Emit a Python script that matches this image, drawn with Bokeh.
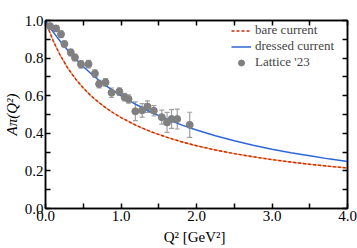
from bokeh.plotting import figure
from bokeh.models import (ColumnDataSource, Whisker, TeeHead, Legend, LegendItem,
                          FixedTicker, LinearAxis, NumeralTickFormatter, Range1d)
from bokeh.embed import file_html
from bokeh.resources import INLINE

# curves
q2_curve = [0.0, 0.05, 0.1, 0.15, 0.2, 0.3, 0.4, 0.5, 0.6, 0.7, 0.8, 0.9, 1.0,
            1.2, 1.4, 1.6, 1.8, 2.0, 2.25, 2.5, 2.75, 3.0, 3.25, 3.5, 3.75, 4.0]
bare = [1.0, 0.944, 0.894, 0.851, 0.811, 0.744, 0.688, 0.641, 0.600, 0.566, 0.535, 0.508, 0.484,
        0.442, 0.408, 0.380, 0.355, 0.334, 0.311, 0.292, 0.275, 0.260, 0.247, 0.235, 0.225, 0.2155]
dressed = [1.0, 0.969, 0.940, 0.913, 0.887, 0.839, 0.795, 0.755, 0.718, 0.685, 0.654, 0.626, 0.600,
           0.553, 0.512, 0.477, 0.445, 0.418, 0.387, 0.360, 0.336, 0.315, 0.296, 0.280, 0.264, 0.2505]

# lattice points
lat_q2 = [0.06, 0.14, 0.205, 0.25, 0.335, 0.39, 0.47, 0.57, 0.655, 0.71, 0.795, 0.875,
          0.978, 1.048, 1.10, 1.19, 1.28, 1.35, 1.435, 1.54, 1.61, 1.67, 1.745, 1.91]
lat_a = [0.970, 0.958, 0.927, 0.875, 0.830, 0.803, 0.767, 0.768, 0.718, 0.662, 0.671, 0.616,
         0.622, 0.592, 0.582, 0.517, 0.522, 0.542, 0.520, 0.486, 0.458, 0.476, 0.476, 0.445]
lat_err = [0.015, 0.015, 0.018, 0.015, 0.018, 0.018, 0.020, 0.020, 0.020, 0.020, 0.020, 0.025,
           0.020, 0.020, 0.022, 0.050, 0.036, 0.031, 0.028, 0.037, 0.053, 0.050, 0.053, 0.067]

x_ticks = [0, 1, 2, 3, 4]
x_minor = [0.5, 1.5, 2.5, 3.5]
y_ticks = [0.0, 0.2, 0.4, 0.6, 0.8, 1.0]
y_minor = [0.1, 0.3, 0.5, 0.7, 0.9]

FONT = "Liberation Serif"

p = figure(frame_width=302, frame_height=188, x_range=Range1d(0, 4), y_range=Range1d(0, 1),
           output_backend="svg", toolbar_location=None,
           min_border_left=0, min_border_right=11, min_border_top=20, min_border_bottom=0)
p.xgrid.visible = False
p.ygrid.visible = False
p.outline_line_color = "black"
p.outline_line_width = 1.5
p.background_fill_color = "white"


def tick_style(ax):
    ax.major_tick_in = 5
    ax.major_tick_out = 0
    ax.minor_tick_in = 5
    ax.minor_tick_out = 0
    ax.axis_line_width = 1.5
    ax.major_tick_line_width = 1.5
    ax.minor_tick_line_width = 1.5


def style(ax, ticks, minor):
    ax.ticker = FixedTicker(ticks=ticks, minor_ticks=minor)
    tick_style(ax)
    ax.major_label_text_font = FONT
    ax.major_label_text_color = "black"
    ax.major_label_text_font_size = "15px"
    ax.formatter = NumeralTickFormatter(format="0.0")
    ax.major_label_standoff = 2
    ax.axis_label_text_font = FONT
    ax.axis_label_text_font_size = "15px"
    ax.axis_label_text_color = "black"


style(p.xaxis[0], x_ticks, x_minor)
style(p.yaxis[0], y_ticks, y_minor)
p.xaxis[0].axis_label = "Q²  [GeV²]"
p.xaxis[0].axis_label_text_font_style = "normal"
p.xaxis[0].axis_label_standoff = 5
p.yaxis[0].axis_label = "Aπ(Q²)"
p.yaxis[0].axis_label_text_font_style = "italic"
p.yaxis[0].axis_label_standoff = 2

# mirrored tick marks (no labels) on top and right
top = LinearAxis(ticker=FixedTicker(ticks=[], minor_ticks=sorted(x_ticks + x_minor)))
tick_style(top)
p.add_layout(top, "above")
right = LinearAxis(ticker=FixedTicker(ticks=[], minor_ticks=sorted(y_ticks + y_minor)))
tick_style(right)
p.add_layout(right, "right")

src_c = ColumnDataSource(data=dict(q2=q2_curve, bare=bare, dressed=dressed))
p.line("q2", "bare", source=src_c, line_color="#f58a3a", line_width=1.4, line_alpha=0.8)
r_bare = p.line("q2", "bare", source=src_c, line_color="#c8280e", line_width=1.4, line_dash="3 2")
r_dressed = p.line("q2", "dressed", source=src_c, line_color="#2f66d6", line_width=1.5)

src_l = ColumnDataSource(data=dict(x=lat_q2, y=lat_a,
                                   lo=[a - e for a, e in zip(lat_a, lat_err)],
                                   hi=[a + e for a, e in zip(lat_a, lat_err)]))
wh = Whisker(source=src_l, base="x", upper="hi", lower="lo", dimension="height",
             line_color="#a0a0a0", line_width=1.2,
             upper_head=TeeHead(size=5, line_color="#a0a0a0", line_width=1.2),
             lower_head=TeeHead(size=5, line_color="#a0a0a0", line_width=1.2))
p.add_layout(wh)
r_pts = p.scatter("x", "y", source=src_l, size=7, fill_color="#808080", line_color="#808080")

legend = Legend(items=[LegendItem(label="bare current", renderers=[r_bare]),
                       LegendItem(label="dressed current", renderers=[r_dressed]),
                       LegendItem(label="Lattice '23", renderers=[r_pts])],
                location=(186, 138), border_line_color=None, background_fill_alpha=0,
                label_text_font=FONT, label_text_font_size="13px",
                glyph_width=20, glyph_height=15, label_height=15, label_standoff=4,
                spacing=0, padding=2, margin=0)
p.add_layout(legend)

open("out.html", "w").write(file_html(p, INLINE))
